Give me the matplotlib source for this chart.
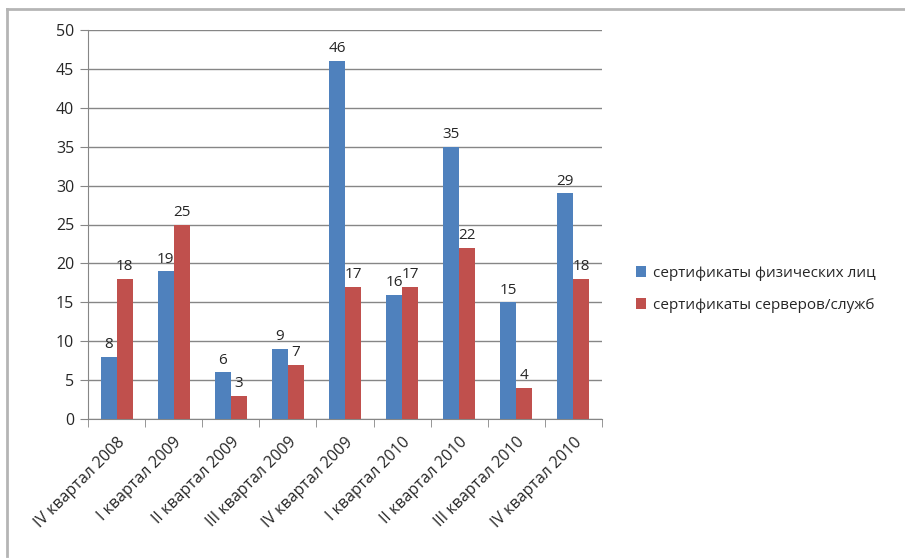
import numpy as np
import matplotlib.pyplot as plt
from matplotlib.lines import Line2D

# data
quarters = ['IV квартал 2008', 'I квартал 2009', 'II квартал 2009', 'III квартал 2009',
            'IV квартал 2009', 'I квартал 2010', 'II квартал 2010', 'III квартал 2010',
            'IV квартал 2010']
personal = [8, 19, 6, 9, 46, 16, 35, 15, 29]
servers = [18, 25, 3, 7, 17, 17, 22, 4, 18]
series_names = ['сертификаты физических лиц', 'сертификаты серверов/служб']
yticks = [0, 5, 10, 15, 20, 25, 30, 35, 40, 45, 50]

plt.rcParams['font.family'] = ['Open Sans', 'DejaVu Sans']
blue = '#4F81BD'
red = '#C0504D'
grey = '#868686'
txt = '#262626'

fig = plt.figure(figsize=(9.05, 5.58), dpi=100)
ax = fig.add_axes([88 / 905, 1 - 419 / 558, (602 - 88) / 905, (419 - 30) / 558])

x = np.arange(len(quarters))
w = 0.28
b1 = ax.bar(x - w / 2, personal, w, color=blue, label=series_names[0], zorder=3)
b2 = ax.bar(x + w / 2, servers, w, color=red, label=series_names[1], zorder=3)
for bars, vals in ((b1, personal), (b2, servers)):
    for r, v in zip(bars, vals):
        ax.text(r.get_x() + r.get_width() / 2, v + 0.6, str(v), ha='center', va='bottom',
                fontsize=11, color=txt, zorder=4)

ax.set_xlim(-0.5, len(quarters) - 0.5)
ax.set_ylim(0, 50)
ax.set_yticks(yticks)
ax.yaxis.grid(True, color=grey, linewidth=1, zorder=0)
ax.tick_params(axis='y', length=6, color=grey, labelsize=11.5, labelcolor=txt, pad=4)

ax.set_xticks(x)
ax.set_xticklabels(quarters, rotation=45, ha='right', rotation_mode='anchor',
                   fontsize=11.5, color=txt)
ax.set_xticks(np.arange(len(quarters) + 1) - 0.5, minor=True)
ax.tick_params(axis='x', which='major', length=0, pad=11)
ax.tick_params(axis='x', which='minor', length=6, color=grey, direction='out')

for s in ['top', 'right']:
    ax.spines[s].set_visible(False)
for s in ['left', 'bottom']:
    ax.spines[s].set_color(grey)

fig.legend(loc='upper left', bbox_to_anchor=(622 / 905, 1 - 252 / 558), frameon=False,
           fontsize=11, handlelength=0.7, handleheight=0.7, handletextpad=0.4,
           labelspacing=1.1, labelcolor=txt)

# outer chart border: only top and left edges are visible in the reference
fig.add_artist(Line2D([7 / 905, 1], [1 - 9 / 558, 1 - 9 / 558], transform=fig.transFigure,
                      color='#B5B5B5', linewidth=2))
fig.add_artist(Line2D([7 / 905, 7 / 905], [1 - 9 / 558, 1 - 556 / 558], transform=fig.transFigure,
                      color='#B5B5B5', linewidth=2))

fig.savefig('out.png', dpi=100)
